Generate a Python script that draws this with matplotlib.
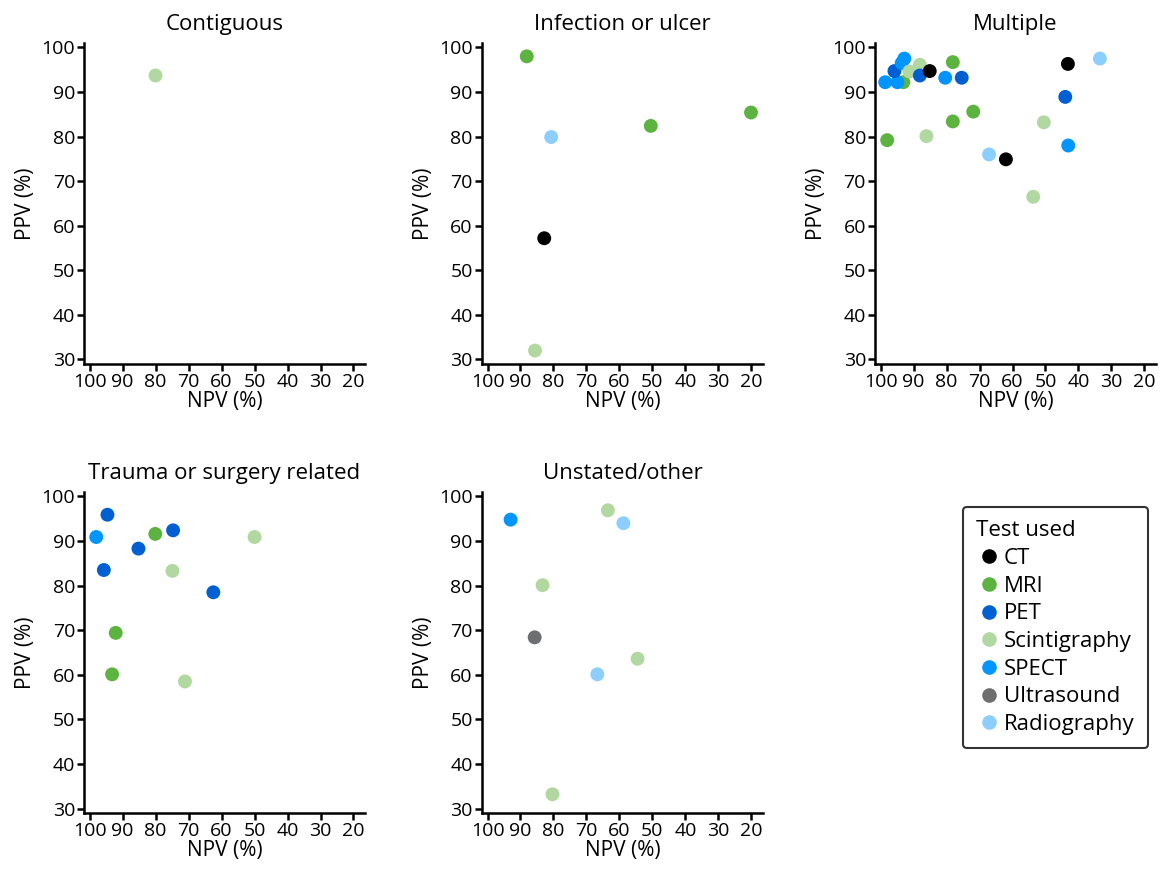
import matplotlib
matplotlib.use("Agg")
import matplotlib.pyplot as plt
from matplotlib.lines import Line2D

plt.rcParams["font.family"] = ["Open Sans", "DejaVu Sans"]

tests = ["CT", "MRI", "PET", "Scintigraphy", "SPECT", "Ultrasound", "Radiography"]
colors = {
    "CT": "#000000",
    "MRI": "#5db33f",
    "PET": "#0060d3",
    "Scintigraphy": "#b0d8a0",
    "SPECT": "#0095ff",
    "Ultrasound": "#6d6e70",
    "Radiography": "#8ccfff",
}

# (test, NPV, PPV) per panel
contiguous_test = ["Scintigraphy"]
contiguous_npv = [80.3]
contiguous_ppv = [93.9]

infection_test = ["MRI", "Radiography", "MRI", "MRI", "CT", "Scintigraphy"]
infection_npv = [88.1, 80.7, 50.5, 20.1, 82.8, 85.6]
infection_ppv = [98.0, 79.9, 82.4, 85.4, 57.2, 32.0]

multiple_test = ["MRI", "SPECT", "SPECT", "PET", "SPECT", "SPECT", "Scintigraphy",
                 "Scintigraphy", "PET", "CT", "SPECT", "PET", "MRI", "CT",
                 "Radiography", "PET", "MRI", "MRI", "Scintigraphy", "MRI",
                 "Scintigraphy", "SPECT", "Radiography", "CT", "Scintigraphy"]
multiple_npv = [93.1, 98.6, 94.9, 95.8, 93.6, 92.8, 91.3, 88.1, 88.1, 85.1, 80.4,
                75.4, 78.1, 43.2, 33.5, 44.0, 71.9, 78.1, 50.5, 98.0, 86.1, 43.1,
                67.1, 62.0, 53.7]
multiple_ppv = [92.2, 92.2, 92.2, 94.7, 96.5, 97.5, 94.6, 96.1, 93.7, 94.7, 93.2,
                93.2, 96.7, 96.3, 97.5, 88.9, 85.6, 83.4, 83.2, 79.2, 80.1, 78.0,
                76.0, 74.9, 66.5]

trauma_test = ["SPECT", "PET", "PET", "PET", "MRI", "PET", "Scintigraphy",
               "Scintigraphy", "PET", "MRI", "MRI", "Scintigraphy"]
trauma_npv = [98.0, 94.6, 95.7, 85.2, 80.1, 74.7, 50.0, 74.9, 62.5, 92.1, 93.2, 71.1]
trauma_ppv = [90.9, 95.9, 83.5, 88.3, 91.6, 92.4, 90.9, 83.3, 78.5, 69.4, 60.1, 58.5]

unstated_test = ["SPECT", "Scintigraphy", "Radiography", "Scintigraphy", "Ultrasound",
                 "Scintigraphy", "Radiography", "Scintigraphy"]
unstated_npv = [93.0, 63.5, 58.8, 83.3, 85.7, 54.5, 66.7, 80.3]
unstated_ppv = [94.8, 96.9, 94.0, 80.1, 68.4, 63.6, 60.1, 33.2]

panels = [
    ("Contiguous", contiguous_test, contiguous_npv, contiguous_ppv),
    ("Infection or ulcer", infection_test, infection_npv, infection_ppv),
    ("Multiple", multiple_test, multiple_npv, multiple_ppv),
    ("Trauma or surgery related", trauma_test, trauma_npv, trauma_ppv),
    ("Unstated/other", unstated_test, unstated_npv, unstated_ppv),
]

fig = plt.figure(figsize=(11.64, 8.77), dpi=100)
lefts = [0.0722, 0.414, 0.7517]
bottoms = [0.585, 0.073]
w, h = 0.2414, 0.366

for i, (title, test, npv, ppv) in enumerate(panels):
    ax = fig.add_axes([lefts[i % 3], bottoms[i // 3], w, h])
    ax.scatter(npv, ppv, c=[colors[t] for t in test], s=100, linewidths=0, zorder=3)
    ax.set_xlim(101.7, 16.5)
    ax.set_ylim(29, 101)
    ax.set_xticks(range(100, 19, -10))
    ax.set_yticks(range(30, 101, 10))
    ax.spines[["top", "right"]].set_visible(False)
    ax.spines[["left", "bottom"]].set_linewidth(1.8)
    ax.tick_params(width=1.8, length=5, labelsize=14, pad=1.5)
    ax.set_xlabel("NPV (%)", fontsize=15, labelpad=0)
    ax.set_ylabel("PPV (%)", fontsize=15, labelpad=4)
    ax.set_title(title, fontsize=16, pad=9)

handles = [Line2D([], [], marker="o", linestyle="", markersize=10.5,
                  markerfacecolor=colors[t], markeredgewidth=0, label=t) for t in tests]
leg = fig.legend(handles=handles, title="Test used", loc="upper left",
                 bbox_to_anchor=(963 / 1164, 1 - 507 / 877), fontsize=16,
                 title_fontsize=16, frameon=True, fancybox=True, edgecolor="black",
                 handletextpad=0.15, handlelength=1.1, labelspacing=0.3,
                 borderpad=0.6, borderaxespad=0)
leg._legend_box.align = "left"
leg.get_frame().set_linewidth(1.5)

fig.savefig("out.png", dpi=100)
